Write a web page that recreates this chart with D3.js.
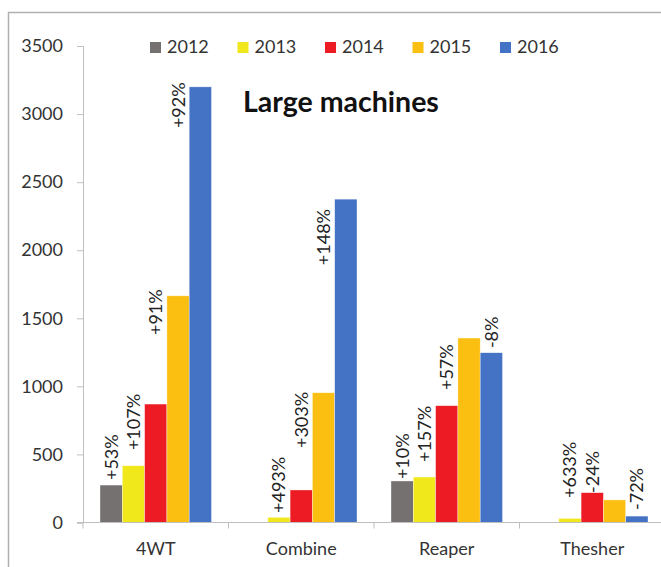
<!DOCTYPE html>
<html>
<head>
<meta charset="utf-8">
<script src="https://cdn.jsdelivr.net/npm/d3@7"></script>
<style>
  body { margin: 0; background: #fff; }
  svg { display: block; font-family: Lato, "Open Sans", sans-serif; }
</style>
</head>
<body>
<svg id="chart" width="661" height="567"></svg>
<script>
// data
var categories = ['4WT', 'Combine', 'Reaper', 'Thesher'];
var years = ['2012', '2013', '2014', '2015', '2016'];
var values = {
    '4WT':     [275, 417, 870, 1665, 3200],
    'Combine': [0, 38, 239, 953, 2375],
    'Reaper':  [305, 334, 858, 1355, 1247],
    'Thesher': [0, 30, 219, 166, 47]
};
var yTicks = [0, 500, 1000, 1500, 2000, 2500, 3000, 3500];
// growth labels: which bar they sit over and the level (in units) where they start
var growth = [
    { cat: '4WT', year: '2012', text: '+53%', at: 312 },
    { cat: '4WT', year: '2013', text: '+107%', at: 532 },
    { cat: '4WT', year: '2014', text: '+91%', at: 1377 },
    { cat: '4WT', year: '2015', text: '+92%', at: 2897 },
    { cat: 'Combine', year: '2013', text: '+493%', at: 70 },
    { cat: 'Combine', year: '2014', text: '+303%', at: 547 },
    { cat: 'Combine', year: '2015', text: '+148%', at: 1890 },
    { cat: 'Reaper', year: '2012', text: '+10%', at: 319 },
    { cat: 'Reaper', year: '2013', text: '+157%', at: 444 },
    { cat: 'Reaper', year: '2014', text: '+57%', at: 973 },
    { cat: 'Reaper', year: '2016', text: '-8%', at: 1281 },
    { cat: 'Thesher', year: '2013', text: '+633%', at: 180 },
    { cat: 'Thesher', year: '2014', text: '-24%', at: 217 },
    { cat: 'Thesher', year: '2016', text: '-72%', at: 92 }
];
var colors = {'2012': '#767171', '2013': '#f1e81b', '2014': '#ed1c24', '2015': '#fbbf12', '2016': '#4472c4'};

(function(){
    var svg = d3.select('#chart');
    var plotLeft = 83, plotRight = 665, plotTop = 46, plotBottom = 522.5;
    var axisColor = '#bfbfbf';

    // frame (only left and top edges show inside the window)
    svg.append('path')
        .attr('d', 'M8.5,567 V12.5 H661')
        .attr('fill', 'none')
        .attr('stroke', '#b0b0b0')
        .attr('stroke-width', 1.5);

    var x0 = d3.scaleBand().domain(categories).range([plotLeft, plotRight]);
    var x1 = d3.scaleBand().domain(years).range([17, x0.bandwidth() - 17]);
    var y = d3.scaleLinear().domain([0, 3500]).range([plotBottom, plotTop]);

    // y axis
    var yAxis = svg.append('g')
        .attr('transform', 'translate(' + plotLeft + ',0)')
        .call(d3.axisLeft(y).tickValues(yTicks).tickFormat(d3.format('d')).tickSize(6).tickPadding(14));
    yAxis.select('.domain').attr('stroke', axisColor);
    yAxis.selectAll('.tick line').attr('stroke', axisColor);
    yAxis.selectAll('.tick text')
        .attr('font-size', 18)
        .attr('fill', '#333')
        .style('font-family', 'Lato, sans-serif');

    // bars
    var groups = svg.append('g').selectAll('g')
        .data(categories)
        .join('g')
        .attr('transform', function(d){ return 'translate(' + x0(d) + ',0)'; });

    groups.selectAll('rect')
        .data(function(c){ return years.map(function(yr, i){ return {year: yr, value: values[c][i]}; }); })
        .join('rect')
        .attr('x', function(d){ return x1(d.year); })
        .attr('width', x1.bandwidth())
        .attr('y', function(d){ return y(d.value); })
        .attr('height', function(d){ return plotBottom - y(d.value); })
        .attr('fill', function(d){ return colors[d.year]; })
        .attr('stroke', '#fff')
        .attr('stroke-width', 0.6)
        .attr('stroke-opacity', function(d){ return d.value > 0 ? 0.6 : 0; });

    // x axis: line, boundary ticks, category names
    svg.append('line')
        .attr('x1', plotLeft - 6).attr('x2', 661)
        .attr('y1', plotBottom).attr('y2', plotBottom)
        .attr('stroke', axisColor);

    svg.append('g').selectAll('line')
        .data(categories)
        .join('line')
        .attr('x1', function(d){ return x0(d); })
        .attr('x2', function(d){ return x0(d); })
        .attr('y1', plotBottom)
        .attr('y2', plotBottom + 6)
        .attr('stroke', axisColor);

    svg.append('g').selectAll('text')
        .data(categories)
        .join('text')
        .attr('x', function(d){ return x0(d) + x0.bandwidth() / 2; })
        .attr('y', plotBottom + 32)
        .attr('text-anchor', 'middle')
        .attr('font-size', 18)
        .attr('fill', '#333')
        .text(function(d){ return d; });

    // growth labels, rotated
    svg.append('g').selectAll('text')
        .data(growth)
        .join('text')
        .attr('transform', function(d){
            var cx = x0(d.cat) + x1(d.year) + x1.bandwidth() / 2;
            return 'translate(' + cx + ',' + y(d.at) + ') rotate(-90)';
        })
        .attr('dy', '0.36em')
        .attr('font-size', 18)
        .attr('fill', '#222')
        .text(function(d){ return d.text; });

    // legend
    var legend = svg.append('g').selectAll('g')
        .data(years)
        .join('g')
        .attr('transform', function(d, i){ return 'translate(' + (150 + i * 87.5) + ',42)'; });
    legend.append('rect')
        .attr('width', 11).attr('height', 11)
        .attr('fill', function(d){ return colors[d]; });
    legend.append('text')
        .attr('x', 17).attr('y', 11)
        .attr('font-size', 18)
        .attr('fill', '#333')
        .text(function(d){ return d; });

    // title
    svg.append('text')
        .attr('x', 243).attr('y', 112)
        .attr('font-size', 28.5)
        .attr('font-weight', 'bold')
        .attr('fill', '#111')
        .text('Large machines');
})();
</script>
</body>
</html>
